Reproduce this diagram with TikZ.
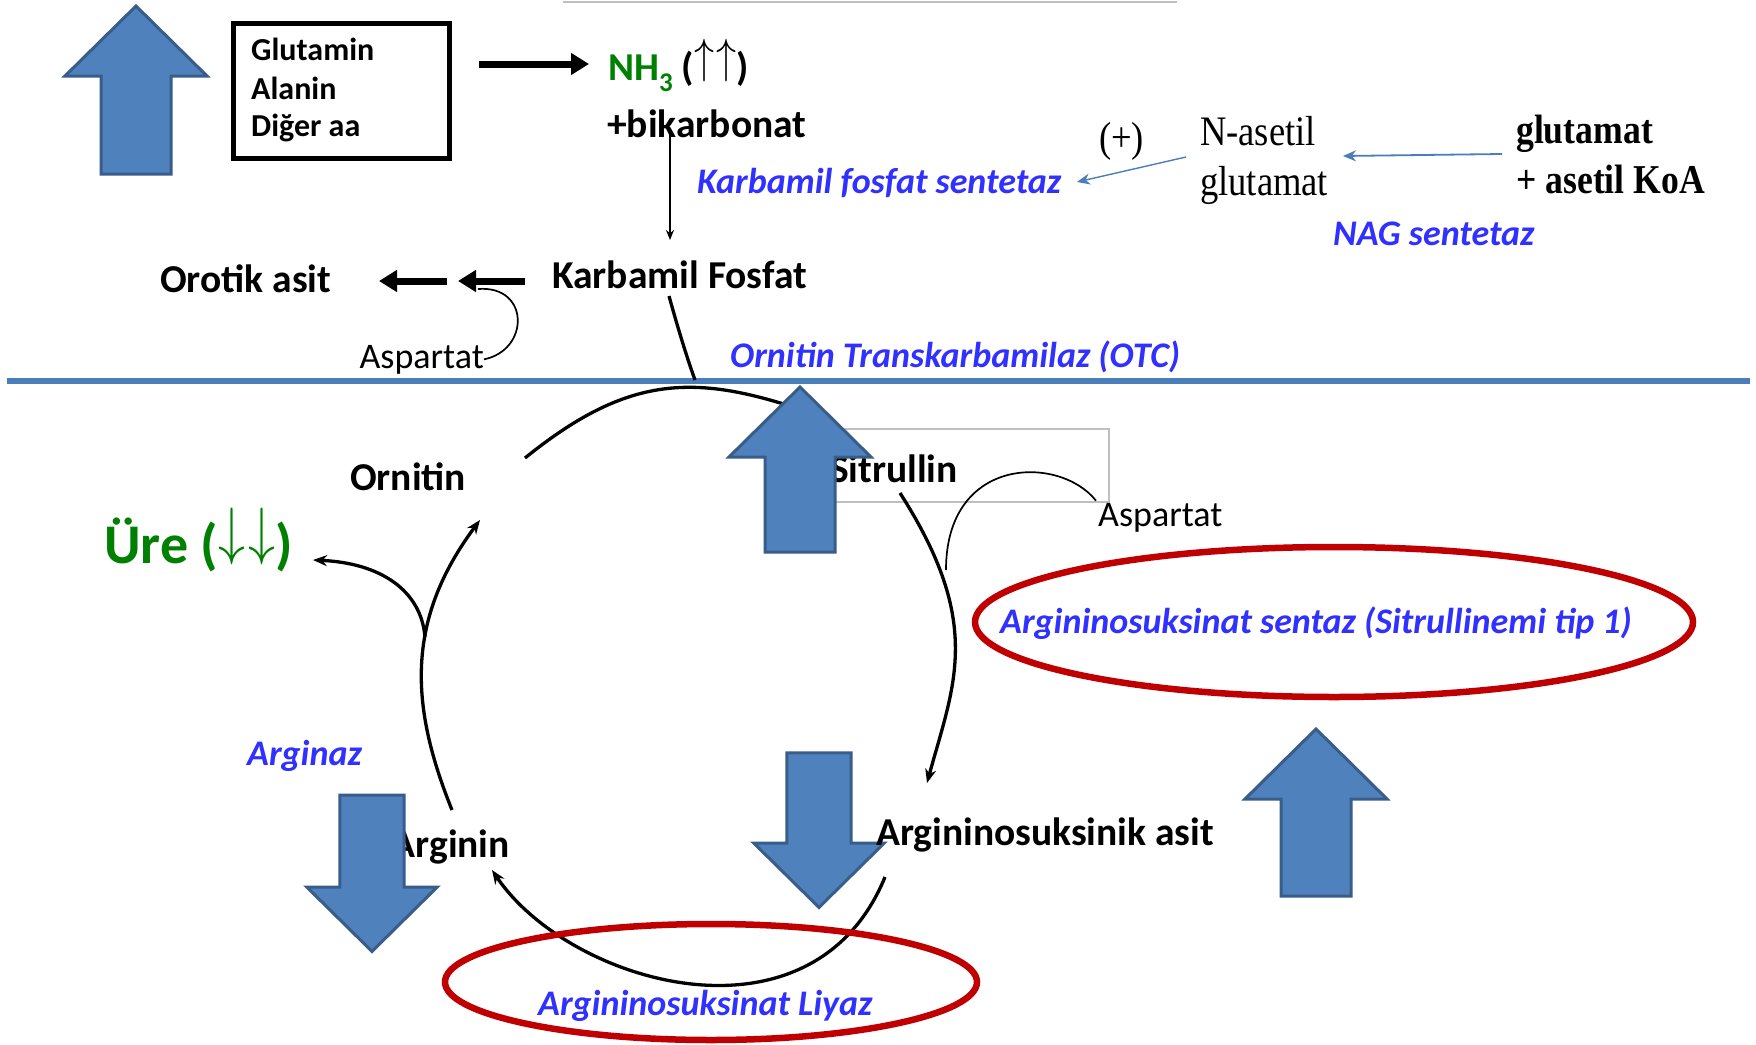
\RequirePackage{fix-cm}
\documentclass[tikz,border=0pt]{standalone}
\usepackage{fontspec}
\setmainfont{Carlito}
\newfontfamily\timesfont[FakeStretch=0.87]{Liberation Serif}
\newfontfamily\enzfont{Carlito Bold Italic}
\usetikzlibrary{arrows.meta}
\definecolor{color_block}{HTML}{4F81BD}
\definecolor{color_blockline}{HTML}{385D8A}
\definecolor{color_rule}{HTML}{4A7EBB}
\definecolor{color_enzyme}{HTML}{3030FF}
\definecolor{color_ring}{HTML}{C00000}
\definecolor{color_urea}{HTML}{008000}
\definecolor{color_frame}{HTML}{BFBFBF}
\newcommand{\arrowsym}[4]{\raisebox{#4}{\fontsize{10}{12}\selectfont\scalebox{#2}[#3]{$#1\mkern1mu#1$}}}

\begin{document}
\begin{tikzpicture}[x=1pt, y=-1pt, every node/.style={inner sep=0pt}]
  \tikzset{ % styles
      pics/blockarrow/.style = {code={
        \draw[fill=color_block, draw=color_blockline, line width=3pt]
          (-35,#1) -- (-35,0) -- (-71,0) -- (0,-70) -- (71,0) -- (35,0) -- (35,#1) -- cycle;}},
      metab/.style = {font=\fontsize{39.5}{40}\selectfont\bfseries},
      aalist/.style = {font=\fontsize{32}{38}\selectfont\bfseries},
      enzyme/.style = {font=\fontsize{36}{36}\selectfont\enzfont, text=color_enzyme},
      aspname/.style = {font=\fontsize{36}{36}\selectfont},
      serif/.style = {font=\fontsize{42}{42}\selectfont\timesfont},
      serifbold/.style = {font=\fontsize{41}{41}\selectfont\timesfont\bfseries},
      redring/.style = {draw=color_ring, line width=6.5pt},
      cyc/.style = {line width=3.3pt, -{Stealth[length=14pt, width=11pt]}},
      cycplain/.style = {line width=3.3pt},
      fat/.style = {line width=7pt, -{Triangle[length=18pt, width=21pt]}},
      thin/.style = {line width=1.7pt},
      bluearr/.style = {draw=color_rule, line width=1.8pt, -{Stealth[length=13pt, width=11pt]}},
  }
  \fill[white] (0,0) rectangle (1756,1044);
  \useasboundingbox (0,0) rectangle (1756,1044);

  % top part
  \draw[color_frame, line width=1.2pt] (563,2) -- (1177,2);
  \pic at (136,76) {blockarrow=98};
  \node (aabox) [draw, line width=4.5pt, anchor=north west, minimum width=216pt, minimum height=135pt] at (231,21) {};
  \node (glutamin) [aalist, anchor=base west] at (251,60) {Glutamin};
  \node (alanin) [aalist, anchor=base west] at (251,99) {Alanin};
  \node (diger) [aalist, anchor=base west] at (251,136) {Diğer aa};
  \node (nh) [metab, anchor=base west, text=color_urea] at (608,80)
    {NH\raisebox{-0.3em}{\fontsize{27}{27}\selectfont 3}\textcolor{black}{\ (\arrowsym{\uparrow}{4}{4.8}{8pt})}};
  \node (bikarb) [metab, anchor=base west] at (607,137) {+bikarbonat};
  \coordinate (boxout) at (479,64);
  \coordinate (nhin) at (589,64);
  \draw[fat] (boxout) -- (nhin);
  \node (kfs) [enzyme, anchor=base west] at (697,193) {Karbamil fosfat sentetaz};
  \node (plus) [serif, anchor=base west] at (1099,151) {(+)};
  \node (nacetyl) [serif, anchor=base west] at (1200,145) {N-asetil};
  \node (nacetylb) [serif, anchor=base west] at (1200,195) {glutamat};
  \node (glu) [serifbold, anchor=base west] at (1516,143) {glutamat};
  \node (koa) [serifbold, anchor=base west] at (1516,193) {+ asetil KoA};
  \node (nags) [enzyme, anchor=base west] at (1333,245) {NAG sentetaz};
  \coordinate (nagout) at (1186,157);
  \coordinate (kfsin) at (1077,182);
  \coordinate (gluout) at (1502,154);
  \coordinate (nagin) at (1343,156);
  \draw[bluearr, line width=1.4pt] (nagout) -- (kfsin);
  \draw[bluearr] (gluout) -- (nagin);

  \node (kf) [metab, anchor=base west] at (552,288) {Karbamil Fosfat};
  \coordinate (bkout) at (670,131);
  \coordinate (kfin) at (670,240);
  \draw[thin, -{Stealth[length=10pt, width=8pt]}] (bkout) -- (kfin);
  \node (orotik) [metab, anchor=base west] at (160,292) {Orotik asit};
  \coordinate (kfout) at (525,281);
  \coordinate (mid) at (458,281);
  \coordinate (midb) at (447,281);
  \coordinate (orotin) at (379,281);
  \draw[fat] (kfout) -- (mid);
  \draw[fat] (midb) -- (orotin);
  \node (asp1) [aspname, anchor=base east] at (484,368) {Aspartat};
  \coordinate (aspa) at (478,289);
  \draw[thin] (aspa) .. controls (530,285) and (530,350) .. (asp1.east);
  \node (otc) [enzyme, anchor=base west] at (730,367) {Ornitin Transkarbamilaz (OTC)};

  % membrane
  \draw[color_rule, line width=6.5pt] (7,381) -- (1750,381);
  \coordinate (kfbot) at (669,296);
  \coordinate (cyctop) at (695,380);
  \draw[cycplain] (kfbot) .. controls (677,325) and (686,355) .. (cyctop);

  % cycle
  \draw[color_frame, line width=1.2pt] (830,429) -- (1109,429) -- (1109,502) -- (830,502);
  \node (ornitin) [metab, anchor=base west] at (350,490) {Ornitin};
  \node (sitrullin) [metab, anchor=base east] at (958,482) {Sitrullin};
  \node (arginin) [metab, anchor=base east] at (510,857) {Arginin};
  \node (ure) [metab, anchor=base west, text=color_urea, font=\fontsize{56}{56}\selectfont\bfseries] at (104,563)
    {Üre (\arrowsym{\downarrow}{5.4}{6.4}{11pt})};
  \node (arginaz) [enzyme, anchor=base west] at (247,765) {Arginaz};
  \node (asp2) [aspname, anchor=base west] at (1098,526) {Aspartat};

  \coordinate (ornout) at (525,458);
  \coordinate (citin) at (790,406);
  \coordinate (citout) at (900,493);
  \coordinate (asain) at (927,783);
  \coordinate (asaout) at (885,877);
  \coordinate (argin) at (492,870);
  \coordinate (argout) at (452,810);
  \coordinate (ornin) at (480,520);
  \coordinate (fork) at (425,637);
  \coordinate (urein) at (313,560);
  \coordinate (aspjoin) at (946,570);
  \draw[cycplain] (ornout) .. controls (624,378) and (689,374) .. (citin);
  \draw[cyc] (citout) .. controls (984,624) and (954,684) .. (asain);
  \draw[cyc] (asaout) .. controls (812,1055) and (569,984) .. (argin);
  \draw[cyc] (argout) .. controls (411,708) and (404,622) .. (ornin);
  \draw[cyc] (fork) .. controls (421,590) and (380,563) .. (urein);
  \draw[thin] (asp2.north west) ++(-2,-2) .. controls (1060,455) and (946,455) .. (aspjoin);

  \pic at (800,457) {blockarrow=95};
  \pic at (1316,799) {blockarrow=97};
  \pic[rotate=180, scale=0.92] at (372,887) {blockarrow=100};
  \pic[rotate=180, scale=0.92] at (819,843) {blockarrow=98};

  \node (asa) [metab, anchor=base west] at (876,845) {Argininosuksinik asit};
  \draw[redring] (1334,622) ellipse[x radius=359, y radius=75];
  \node (ass) [enzyme, anchor=base west] at (1000,633) {Argininosuksinat sentaz (Sitrullinemi tip 1)};
  \draw[redring] (711,982) ellipse[x radius=266, y radius=58];
  \node (asl) [enzyme, anchor=base west] at (538,1015) {Argininosuksinat Liyaz};
\end{tikzpicture}
\end{document}
